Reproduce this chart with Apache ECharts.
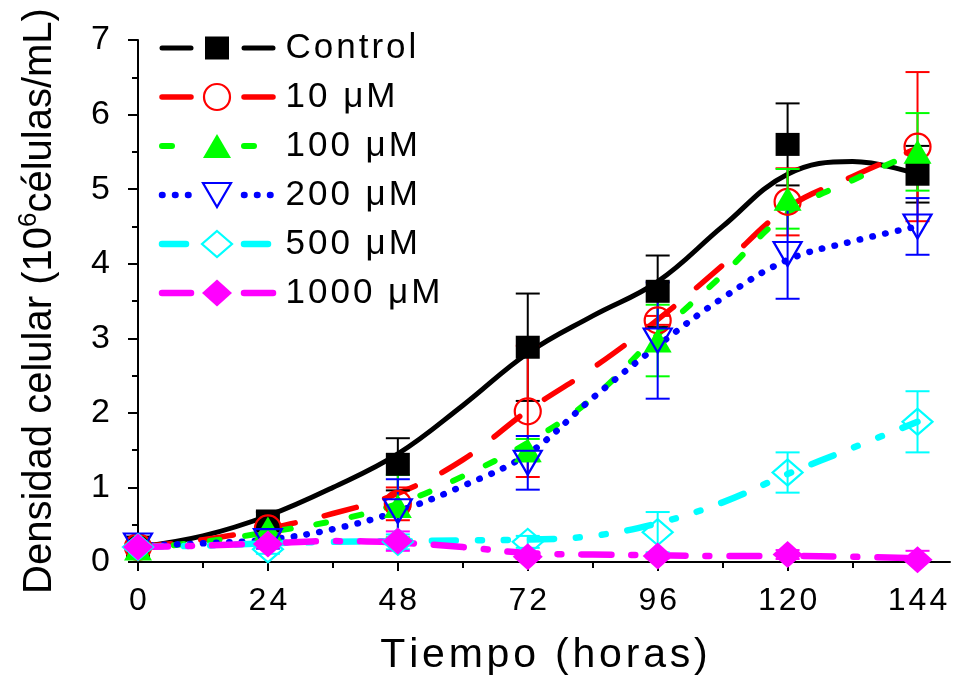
<!DOCTYPE html>
<html><head><meta charset="utf-8">
<script src="https://cdn.jsdelivr.net/npm/echarts@6/dist/echarts.min.js"></script>
<style>html,body{margin:0;padding:0;background:#fff}#c{width:953px;height:681px}</style>
</head><body><div id="c"></div>
<script>
// ---------------- DATA ----------------
const seriesNames = ['Control', '10 μM', '100 μM', '200 μM', '500 μM', '1000 μM'];
const hours = [0, 24, 48, 72, 96, 120, 144];
const xTicks = [0, 24, 48, 72, 96, 120, 144];
const xMinorTicks = [12, 36, 60, 84, 108, 132];
// measured means
const ctrlMean = [0.20, 0.55, 1.31, 2.88, 3.63, 5.60, 5.20];
const m10Mean = [0.20, 0.45, 0.78, 2.02, 3.24, 4.83, 5.57];
const m100Mean = [0.18, 0.45, 0.75, 1.50, 2.97, 4.87, 5.50];
const m200Mean = [0.22, 0.28, 0.68, 1.33, 2.97, 4.13, 4.50];
const m500Mean = [0.20, 0.17, 0.27, 0.27, 0.40, 1.20, 1.88];
const m1000Mean = [0.20, 0.24, 0.28, 0.07, 0.08, 0.10, 0.03];
// error (±)
const ctrlErr = [0.05, 0.12, 0.35, 0.72, 0.48, 0.55, 0.38];
const m10Err = [0.04, 0.08, 0.22, 0.88, 0.06, 0.45, 1.00];
const m100Err = [0.04, 0.08, 0.42, 0.15, 0.48, 0.40, 0.52];
const m200Err = [0.04, 0.10, 0.43, 0.36, 0.78, 0.60, 0.38];
const m500Err = [0.03, 0.06, 0.10, 0.08, 0.27, 0.27, 0.41];
const m1000Err = [0.03, 0.05, 0.13, 0.03, 0.03, 0.06, 0.12];
// fitted curves, every 12 h
const curveHours = [0, 12, 24, 36, 48, 60, 72, 84, 96, 108, 120, 132, 144];
const ctrlCurve = [0.20, 0.35, 0.62, 1.00, 1.45, 2.10, 2.80, 3.30, 3.76, 4.50, 5.20, 5.37, 5.20];
const m10Curve = [0.20, 0.30, 0.45, 0.65, 0.92, 1.37, 2.03, 2.60, 3.25, 3.98, 4.75, 5.17, 5.55];
const m100Curve = [0.18, 0.27, 0.40, 0.55, 0.78, 1.15, 1.60, 2.20, 3.05, 3.85, 4.68, 5.12, 5.50];
const m200Curve = [0.22, 0.25, 0.30, 0.44, 0.68, 1.02, 1.45, 2.20, 2.90, 3.54, 4.05, 4.30, 4.50];
const m500Curve = [0.20, 0.22, 0.25, 0.27, 0.28, 0.29, 0.30, 0.35, 0.52, 0.80, 1.18, 1.53, 1.88];
const m1000Curve = [0.20, 0.22, 0.25, 0.28, 0.26, 0.20, 0.12, 0.10, 0.09, 0.08, 0.08, 0.07, 0.05];

const means = [ctrlMean, m10Mean, m100Mean, m200Mean, m500Mean, m1000Mean];
const errs = [ctrlErr, m10Err, m100Err, m200Err, m500Err, m1000Err];
const curves = [ctrlCurve, m10Curve, m100Curve, m200Curve, m500Curve, m1000Curve];

// ---------------- STYLES ----------------
const FONT = "'Liberation Sans', Arial, sans-serif";
const styles = [
  {color: '#000000', width: 5, dash: 'solid', sym: 'rect', size: [24, 23], filled: true},
  {color: '#ff0000', width: 5.5, dash: [33, 30], sym: 'circle', size: 26, filled: false},
  {color: '#00ff00', width: 6, dash: [10, 26], sym: 'triangle', size: [28, 24], filled: true},
  {color: '#0000ff', width: 6.5, dash: [0.5, 12.5], sym: 'triangle', rot: 180, size: [28, 24], filled: false},
  {color: '#00ffff', width: 6.5, dash: [24, 22, 4, 22, 4, 22], sym: 'diamond', size: [30, 26], filled: false},
  {color: '#ff00ff', width: 6.5, dash: [30, 20, 4, 20], sym: 'diamond', size: [30, 27], filled: true}
];

function spaced(str, cls) {
  return Array.from(str).map(ch => '{' + cls + '|' + ch + '}').join('');
}

const series = [];
// curves
curves.forEach((cv, k) => {
  const st = styles[k];
  series.push({
    type: 'line', name: seriesNames[k] + ' fit',
    data: curveHours.map((h, i) => [h, cv[i]]),
    smooth: 0.4, showSymbol: false, symbol: 'none', silent: true, z: 2,
    lineStyle: {color: st.color, width: st.width, type: st.dash, cap: 'round', join: 'round', opacity: 1}
  });
});
// error bars + markers
means.forEach((mv, k) => {
  const st = styles[k];
  const ev = errs[k];
  series.push({
    type: 'custom', name: seriesNames[k] + ' err', silent: true, z: 3, clip: false,
    data: hours.map((h, i) => [h, Math.max(0, mv[i] - ev[i]), mv[i] + ev[i]]),
    encode: {x: 0, y: [1, 2]},
    renderItem: (params, api) => {
      const x = api.value(0);
      const lo = api.coord([x, api.value(1)]);
      const hi = api.coord([x, api.value(2)]);
      const w = 12;
      const style = {stroke: st.color, lineWidth: 2, fill: null};
      return {type: 'group', children: [
        {type: 'line', shape: {x1: lo[0], y1: lo[1], x2: hi[0], y2: hi[1]}, style},
        {type: 'line', shape: {x1: lo[0] - w, y1: lo[1], x2: lo[0] + w, y2: lo[1]}, style},
        {type: 'line', shape: {x1: hi[0] - w, y1: hi[1], x2: hi[0] + w, y2: hi[1]}, style}
      ]};
    }
  });
  series.push({
    type: 'scatter', name: seriesNames[k], silent: true, z: 3,
    data: hours.map((h, i) => [h, mv[i]]),
    symbol: st.sym, symbolSize: st.size, symbolRotate: st.rot || 0,
    itemStyle: st.filled ? {color: st.color, opacity: 1} : {color: 'rgba(255,255,255,0)', borderColor: st.color, borderWidth: 2.2, opacity: 1}
  });
});

// legend drawn with graphic elements
const graphic = [];
seriesNames.forEach((nm, k) => {
  const st = styles[k];
  const y = 48 + k * 49;
  const ls = {stroke: st.color, lineWidth: st.width, lineDash: st.dash === 'solid' ? null : st.dash, lineCap: 'round'};
  graphic.push({type: 'line', shape: {x1: 162, y1: y, x2: 191, y2: y}, style: ls, z: 10});
  graphic.push({type: 'line', shape: {x1: 244, y1: y, x2: 273, y2: y}, style: ls, z: 10});
  const sz = Array.isArray(st.size) ? st.size : [st.size, st.size];
  const cx = 217, w = sz[0], h = sz[1];
  const sStyle = st.filled ? {fill: st.color} : {fill: null, stroke: st.color, lineWidth: 2.2};
  let shp;
  if (st.sym === 'rect') shp = {type: 'rect', shape: {x: cx - w / 2, y: y - h / 2, width: w, height: h}};
  else if (st.sym === 'circle') shp = {type: 'circle', shape: {cx: cx, cy: y, r: w / 2}};
  else if (st.sym === 'triangle' && !st.rot) shp = {type: 'polygon', shape: {points: [[cx, y - h / 2], [cx + w / 2, y + h / 2], [cx - w / 2, y + h / 2]]}};
  else if (st.sym === 'triangle') shp = {type: 'polygon', shape: {points: [[cx - w / 2, y - h / 2], [cx + w / 2, y - h / 2], [cx, y + h / 2]]}};
  else shp = {type: 'polygon', shape: {points: [[cx, y - h / 2], [cx + w / 2, y], [cx, y + h / 2], [cx - w / 2, y]]}};
  shp.style = sStyle; shp.z = 10;
  graphic.push(shp);
  graphic.push({type: 'text', x: 284, y: y, z: 10, style: {
    text: spaced(nm, 's'), verticalAlign: 'middle',
    rich: {s: {fontSize: 35, fontFamily: FONT, fill: '#000', padding: [0, 1.5, 0, 1.5]}}
  }});
});

const axisLineStyle = {color: '#000', width: 2};
const option = {
  animation: false,
  backgroundColor: '#fff',
  grid: {left: 138, right: 3, top: 40, bottom: 116, containLabel: false},
  xAxis: [{
    type: 'value', min: 0, max: 150, interval: 24,
    name: spaced('Tiempo (horas)', 'n'), nameLocation: 'middle', nameGap: 73,
    nameTextStyle: {verticalAlign: 'top', rich: {n: {fontSize: 41, fontFamily: FONT, color: '#000', padding: [0, 1.9, 0, 1.9]}}},
    axisLine: {show: true, onZero: false, lineStyle: axisLineStyle},
    axisTick: {show: true, length: 9, lineStyle: axisLineStyle, customValues: xTicks},
    axisLabel: {customValues: xTicks, margin: 23, formatter: v => spaced(String(v), 's'),
      rich: {s: {fontSize: 32, fontFamily: FONT, color: '#000', padding: [0, 1.5, 0, 1.5]}}},
    splitLine: {show: false}
  }, {
    type: 'value', min: 0, max: 150, position: 'bottom', gridIndex: 0,
    axisLine: {show: false},
    axisTick: {show: true, length: 6, lineStyle: axisLineStyle, customValues: xMinorTicks},
    axisLabel: {show: false}, splitLine: {show: false}
  }],
  yAxis: {
    type: 'value', min: 0, max: 7, interval: 1,
    name: '{t|Densidad celular (10}{sup|6}{t|células/mL)}',
    nameLocation: 'middle', nameRotate: 90, nameGap: 74,
    nameTextStyle: {rich: {
      t: {fontSize: 40, fontFamily: FONT, color: '#000'},
      sup: {fontSize: 26, fontFamily: FONT, color: '#000', padding: [0, 0, 22, 0]}
    }},
    axisLine: {show: true, lineStyle: axisLineStyle},
    axisTick: {show: true, length: 10, lineStyle: axisLineStyle},
    minorTick: {show: true, splitNumber: 2, length: 6, lineStyle: axisLineStyle},
    minorSplitLine: {show: false},
    axisLabel: {margin: 27, formatter: v => spaced(String(v), 's'),
      rich: {s: {fontSize: 34, fontFamily: FONT, color: '#000', padding: [0, 1, 0, 1]}}},
    splitLine: {show: false}
  },
  graphic: graphic,
  series: series
};
const chart = echarts.init(document.getElementById('c'), null, {renderer: 'canvas'});
chart.setOption(option);
</script>
</body></html>
